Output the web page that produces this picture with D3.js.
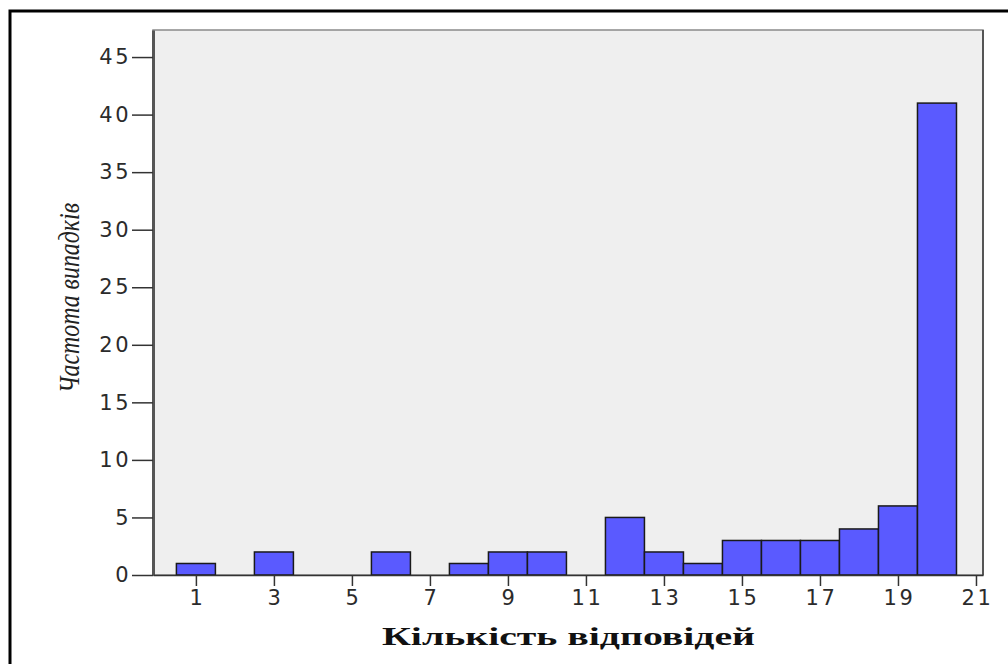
<!DOCTYPE html>
<html>
<head>
<meta charset="utf-8">
<script src="https://cdn.jsdelivr.net/npm/d3@7"></script>
<style>
  body { margin: 0; background: #fff; }
  .tick text { font-family: "DejaVu Sans", Verdana, sans-serif; fill: #2b2b2b; }
</style>
</head>
<body>
<svg id="chart"></svg>
<script>
// answers count (bin centres) and how many cases fell in each
const answers = [1, 2, 3, 4, 5, 6, 7, 8, 9, 10, 11, 12, 13, 14, 15, 16, 17, 18, 19, 20];
const counts  = [1, 0, 2, 0, 0, 2, 0, 1, 2, 2, 0, 5, 2, 1, 3, 3, 3, 4, 6, 41];
const xTicks = [1, 3, 5, 7, 9, 11, 13, 15, 17, 19, 21];
const yTicks = [0, 5, 10, 15, 20, 25, 30, 35, 40, 45];

const width = 1008, height = 664;
const margin = { top: 30, right: 25, bottom: 89, left: 153 };

const svg = d3.select("#chart").attr("width", width).attr("height", height);

// outer frame
svg.append("rect")
  .attr("x", 10).attr("y", 11)
  .attr("width", width).attr("height", height)
  .attr("fill", "none").attr("stroke", "#000").attr("stroke-width", 3);

const innerW = width - margin.left - margin.right;
const innerH = height - margin.top - margin.bottom;

const x = d3.scaleLinear().domain([-0.1, 21.18]).range([0, innerW]);
const y = d3.scaleLinear().domain([0, 47.35]).range([innerH, 0]);

const g = svg.append("g").attr("transform", `translate(${margin.left},${margin.top})`);

// plot background
g.append("rect")
  .attr("width", innerW).attr("height", innerH)
  .attr("fill", "#efefef")
  .attr("stroke", "#8a8a8a").attr("stroke-width", 1.5);
g.append("line")
  .attr("x1", innerW).attr("x2", innerW).attr("y1", 0).attr("y2", innerH)
  .attr("stroke", "#555").attr("stroke-width", 2);

const data = answers.map((a, i) => ({ a, n: counts[i] })).filter(d => d.n > 0);

g.selectAll(".bar")
  .data(data)
  .join("rect")
  .attr("class", "bar")
  .attr("x", d => x(d.a - 0.5))
  .attr("width", d => x(d.a + 0.5) - x(d.a - 0.5))
  .attr("y", d => y(d.n))
  .attr("height", d => y(0) - y(d.n))
  .attr("fill", "#5a5aff")
  .attr("stroke", "#1a1a1a")
  .attr("stroke-width", 1.5);

// axes
const yAxis = d3.axisLeft(y).tickValues(yTicks).tickSize(21).tickPadding(1).tickSizeOuter(0);
const yG = g.append("g").call(yAxis);
yG.select(".domain").attr("stroke", "#555").attr("stroke-width", 3);
yG.selectAll(".tick line").attr("stroke", "#333").attr("stroke-width", 1.5);
yG.selectAll(".tick text").attr("font-size", 21).attr("letter-spacing", 2.5);

const xAxis = d3.axisBottom(x).tickValues(xTicks).tickSize(11).tickPadding(4).tickSizeOuter(0);
const xG = g.append("g").attr("transform", `translate(0,${innerH})`).call(xAxis);
xG.select(".domain").attr("stroke", "#333").attr("stroke-width", 1.5);
xG.selectAll(".tick line").attr("stroke", "#333").attr("stroke-width", 1.5);
xG.selectAll(".tick text").attr("font-size", 21).attr("letter-spacing", 2.5).attr("dx", 1);

// titles (the original is stretched sideways)
svg.append("text")
  .attr("x", 382).attr("y", 645)
  .attr("font-family", "Liberation Serif, Times New Roman, serif")
  .attr("font-weight", "bold")
  .attr("font-size", 26)
  .attr("textLength", 373)
  .attr("lengthAdjust", "spacingAndGlyphs")
  .attr("fill", "#111")
  .text("Кількість відповідей");

svg.append("text")
  .attr("transform", "translate(79,393) rotate(-90)")
  .attr("font-family", "Liberation Serif, Times New Roman, serif")
  .attr("font-style", "italic")
  .attr("font-size", 30)
  .attr("textLength", 190)
  .attr("lengthAdjust", "spacingAndGlyphs")
  .attr("fill", "#222")
  .text("Частота випадків");
</script>
</body>
</html>
